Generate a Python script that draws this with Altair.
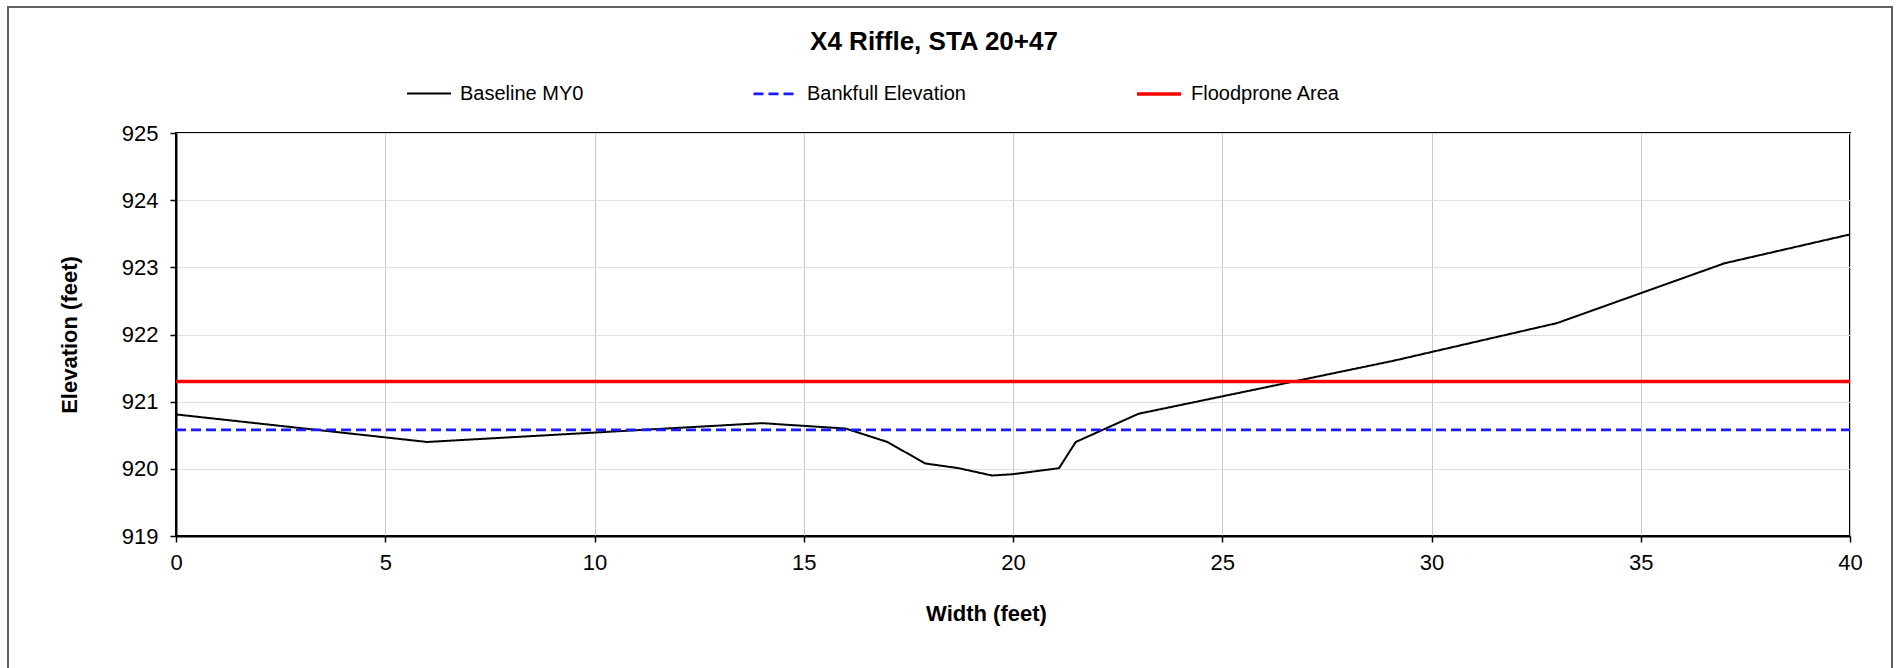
import altair as alt
import pandas as pd

# ---- data ----
width_ft = [0, 6, 14, 16, 17, 17.9, 18.7, 19.5, 20, 21.1, 21.5, 23, 29.1, 33, 37, 40]
elev_ft = [920.81, 920.40, 920.68, 920.60, 920.40, 920.08, 920.01, 919.90,
           919.92, 920.01, 920.40, 920.82, 921.61, 922.17, 923.06, 923.49]
bankfull_elev = 920.58
floodprone_elev = 921.30
x_extent = [0, 40]

series_names = ["Baseline MY0", "Bankfull Elevation", "Floodprone Area"]
series_colors = ["#000000", "#1a1aff", "#ff0000"]
series_dash = [[1, 0], [10, 5], [1, 0]]
series_width = [2, 3.5, 3.5]

x_ticks = [0, 5, 10, 15, 20, 25, 30, 35, 40]
y_ticks = [919, 920, 921, 922, 923, 924, 925]

rows = []
for xv, yv in zip(width_ft, elev_ft):
    rows.append({"x": xv, "y": yv, "series": series_names[0]})
for xv in x_extent:
    rows.append({"x": xv, "y": bankfull_elev, "series": series_names[1]})
for xv in x_extent:
    rows.append({"x": xv, "y": floodprone_elev, "series": series_names[2]})
df = pd.DataFrame(rows)

FONT = "Liberation Sans"

legend = alt.Legend(
    title=None,
    orient="none",
    legendX=230,
    legendY=-63,
    direction="horizontal",
    symbolType="stroke",
    symbolSize=1936,
    labelFontSize=20,
    labelFont=FONT,
    labelColor="#000000",
    labelOffset=8,
    columnPadding=164,
    padding=0,
)

lines = alt.Chart(df).mark_line().encode(
    x=alt.X(
        "x:Q",
        title="Width (feet)",
        scale=alt.Scale(domain=[0, 40], nice=False),
        axis=alt.Axis(
            values=x_ticks,
            gridColor="#c8c8c8",
            gridWidth=1,
            tickSize=6,
            labelPadding=10,
            labelFlush=False,
            titlePadding=30,
            titleX=810,
        ),
    ),
    y=alt.Y(
        "y:Q",
        title="Elevation (feet)",
        scale=alt.Scale(domain=[919, 925], nice=False, zero=False),
        axis=alt.Axis(
            values=y_ticks,
            format="d",
            gridColor="#e0e0e0",
            gridWidth=1,
            tickSize=6,
            labelPadding=12,
            labelFlush=False,
            titlePadding=40,
        ),
    ),
    color=alt.Color("series:N", scale=alt.Scale(domain=series_names, range=series_colors), legend=legend),
    strokeDash=alt.StrokeDash("series:N", scale=alt.Scale(domain=series_names, range=series_dash), legend=legend),
    strokeWidth=alt.StrokeWidth("series:N", scale=alt.Scale(domain=series_names, range=series_width), legend=legend),
)

frame = alt.Chart(pd.DataFrame({"a": [0]})).mark_rect(
    fill="transparent", stroke="#606060", strokeWidth=2
).encode(
    x=alt.value(-168), x2=alt.value(1716), y=alt.value(-126), y2=alt.value(620)
)

chart = alt.layer(frame, lines).properties(
    width=1674,
    height=403,
    background="white",
    autosize=alt.AutoSizeParams(type="none"),
    padding={"left": 176, "top": 133, "right": 50, "bottom": 132},
    title=alt.TitleParams(
        text="X4 Riffle, STA 20+47",
        font=FONT,
        fontSize=26,
        fontWeight="bold",
        color="#000000",
        anchor="middle",
        dx=-79,
        dy=49,
        offset=0,
    ),
).configure_view(
    stroke="#000000", strokeWidth=2
).configure_axis(
    labelFont=FONT,
    labelFontSize=22,
    labelColor="#000000",
    titleFont=FONT,
    titleFontSize=22,
    titleFontWeight="bold",
    titleColor="#000000",
    domainColor="#000000",
    domainWidth=2,
    tickColor="#000000",
    tickWidth=1.5,
)

chart.save("out.html", embed_options={"renderer": "svg", "actions": False})
